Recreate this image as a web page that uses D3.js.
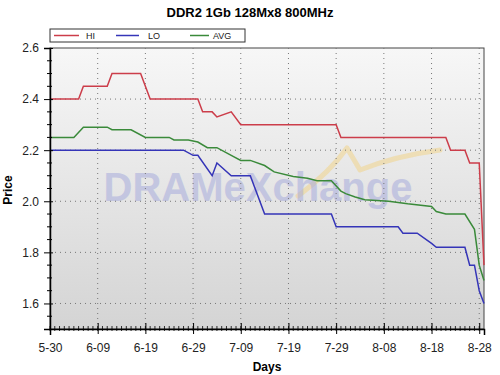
<!DOCTYPE html>
<html>
<head>
<meta charset="utf-8">
<script src="https://cdn.jsdelivr.net/npm/d3@7"></script>
<style>
  body { margin: 0; background: #fff; }
  text { font-family: "Liberation Sans", Arial, sans-serif; }
</style>
</head>
<body>
<script>
// values
var tickLabels = ["5-30", "6-09", "6-19", "6-29", "7-09", "7-19", "7-29", "8-08", "8-18", "8-28"];
var yTicks = [1.6, 1.8, 2.0, 2.2, 2.4, 2.6];

var hiDates = ["5-30","6-05","6-06","6-11","6-12","6-18","6-20","6-30","7-01","7-03","7-04","7-07","7-09","7-29","7-30","8-21","8-22","8-25","8-26","8-28","8-29"];
var hiValues = [2.40, 2.40, 2.45, 2.45, 2.50, 2.50, 2.40, 2.40, 2.35, 2.35, 2.33, 2.35, 2.30, 2.30, 2.25, 2.25, 2.20, 2.20, 2.15, 2.15, 1.75];

var loDates = ["5-30","6-27","6-29","6-30","7-03","7-04","7-07","7-11","7-14","7-28","7-29","8-11","8-12","8-15","8-18","8-19","8-25","8-26","8-27","8-28","8-29"];
var loValues = [2.20, 2.20, 2.18, 2.18, 2.10, 2.15, 2.10, 2.10, 1.95, 1.95, 1.90, 1.90, 1.875, 1.875, 1.835, 1.82, 1.82, 1.75, 1.75, 1.65, 1.60];

var avgDates = ["5-30","6-04","6-06","6-11","6-12","6-16","6-19","6-24","6-25","6-28","6-30","7-02","7-04","7-07","7-09","7-11","7-14","7-16","7-20","7-23","7-25","7-28","7-30","7-31","8-02","8-04","8-09","8-13","8-18","8-19","8-21","8-25","8-27","8-28","8-29"];
var avgValues = [2.25, 2.25, 2.29, 2.29, 2.28, 2.28, 2.25, 2.25, 2.24, 2.24, 2.232, 2.21, 2.21, 2.18, 2.16, 2.16, 2.14, 2.115, 2.097, 2.09, 2.08, 2.08, 2.04, 2.03, 2.017, 2.006, 2.0, 1.99, 1.98, 1.96, 1.95, 1.95, 1.89, 1.75, 1.69];

var W = 500, H = 375;
var m = {left: 50, right: 16, top: 48, bottom: 46};
var parse = d3.timeParse("%Y-%m-%d");
function toDate(s) { return parse("2008-" + s); }

var svg = d3.select("body").append("svg").attr("width", W).attr("height", H);

var x = d3.scaleTime()
  .domain([toDate("5-30"), toDate("8-29")])
  .range([m.left, W - m.right]);
var y = d3.scaleLinear()
  .domain([1.5, 2.6])
  .range([H - m.bottom, m.top]);

// plot background gradient
var grad = svg.append("defs").append("linearGradient")
  .attr("id", "bg").attr("x1", 0).attr("y1", 0).attr("x2", 0).attr("y2", 1);
grad.append("stop").attr("offset", "0%").attr("stop-color", "#f7f7f7");
grad.append("stop").attr("offset", "100%").attr("stop-color", "#d4d4d4");

svg.append("rect")
  .attr("x", m.left).attr("y", m.top)
  .attr("width", W - m.right - m.left).attr("height", H - m.bottom - m.top)
  .attr("fill", "url(#bg)")
  .attr("stroke", "#444").attr("stroke-width", 1);

// watermark
svg.append("path")
  .attr("d", "M298,196 Q330,172 347,148 L360,170 Q395,156 440,150")
  .attr("fill", "none").attr("stroke", "#f0d48a").attr("stroke-width", 5)
  .attr("stroke-linecap", "round").attr("stroke-linejoin", "round").attr("opacity", 0.55);
svg.append("text")
  .attr("x", 258).attr("y", 201)
  .attr("text-anchor", "middle")
  .attr("font-size", 40).attr("font-weight", "bold")
  .attr("fill", "#a8acdc").attr("opacity", 0.55)
  .text("DRAMeXchange");

// grid
var xTickDates = tickLabels.map(toDate);
svg.append("g").selectAll("line").data(xTickDates.slice(1))
  .enter().append("line")
  .attr("x1", function(d) { return x(d); }).attr("x2", function(d) { return x(d); })
  .attr("y1", m.top).attr("y2", H - m.bottom)
  .attr("stroke", "#777").attr("stroke-width", 1).attr("stroke-dasharray", "1,4");
svg.append("g").selectAll("line").data(yTicks.slice(0, -1))
  .enter().append("line")
  .attr("x1", m.left).attr("x2", W - m.right)
  .attr("y1", function(d) { return y(d); }).attr("y2", function(d) { return y(d); })
  .attr("stroke", "#777").attr("stroke-width", 1).attr("stroke-dasharray", "1,4");

// series
var series = [
  {name: "HI", color: "#cc3d4a", dates: hiDates, values: hiValues},
  {name: "LO", color: "#3535b8", dates: loDates, values: loValues},
  {name: "AVG", color: "#3a8a3a", dates: avgDates, values: avgValues}
];
var line = d3.line()
  .x(function(d) { return x(d[0]); })
  .y(function(d) { return y(d[1]); });

series.forEach(function(s) {
  var pts = s.dates.map(function(d, i) { return [toDate(d), s.values[i]]; });
  svg.append("path")
    .datum(pts)
    .attr("fill", "none")
    .attr("stroke", s.color)
    .attr("stroke-width", 1.5)
    .attr("d", line);
});

// y axis
var yAxis = svg.append("g")
  .attr("transform", "translate(" + m.left + ",0)")
  .call(d3.axisLeft(y).tickValues(yTicks).tickFormat(d3.format(".1f")).tickSize(6).tickPadding(5));
yAxis.select(".domain").attr("stroke", "#000").attr("stroke-width", 1.5);
yAxis.selectAll(".tick line").attr("stroke", "#000").attr("x2", 3).attr("x1", -6);
yAxis.selectAll("text").attr("font-size", 12).attr("fill", "#222");
svg.append("g").selectAll("line").data(d3.range(1.55, 2.6, 0.05).filter(function(v) {
    return Math.abs(v * 5 - Math.round(v * 5)) > 0.01;
  }))
  .enter().append("line")
  .attr("x1", m.left - 3).attr("x2", m.left + 2)
  .attr("y1", function(d) { return y(d); }).attr("y2", function(d) { return y(d); })
  .attr("stroke", "#000");

// x axis
var xAxis = svg.append("g")
  .attr("transform", "translate(0," + (H - m.bottom) + ")")
  .call(d3.axisBottom(x).tickValues(xTickDates)
    .tickFormat(function(d, i) { return tickLabels[i]; })
    .tickSize(6).tickPadding(8));
xAxis.select(".domain").attr("stroke", "#000").attr("stroke-width", 1.5);
xAxis.selectAll(".tick line").attr("stroke", "#000").attr("y1", -6).attr("y2", 5);
xAxis.selectAll("text").attr("font-size", 12).attr("fill", "#222");
svg.append("g").selectAll("line").data(d3.timeDay.range(toDate("5-30"), toDate("8-29")))
  .enter().append("line")
  .attr("x1", function(d) { return x(d); }).attr("x2", function(d) { return x(d); })
  .attr("y1", H - m.bottom - 3).attr("y2", H - m.bottom + 2)
  .attr("stroke", "#000").attr("stroke-width", 0.8);

// titles
svg.append("text")
  .attr("x", 250).attr("y", 17)
  .attr("text-anchor", "middle")
  .attr("font-size", 13).attr("font-weight", "bold")
  .text("DDR2 1Gb 128Mx8 800MHz");
svg.append("text")
  .attr("x", 267).attr("y", 371)
  .attr("text-anchor", "middle")
  .attr("font-size", 12).attr("font-weight", "bold")
  .text("Days");
svg.append("text")
  .attr("transform", "translate(12,190) rotate(-90)")
  .attr("text-anchor", "middle")
  .attr("font-size", 12).attr("font-weight", "bold")
  .text("Price");

// legend
var legend = svg.append("g");
legend.append("rect")
  .attr("x", 50).attr("y", 29).attr("width", 195).attr("height", 13)
  .attr("fill", "#fff").attr("stroke", "#333");
var legendX = [54, 116, 190];
var legendW = [25, 23, 19];
var legendTextX = [86, 148, 213];
series.forEach(function(s, i) {
  legend.append("line")
    .attr("x1", legendX[i]).attr("x2", legendX[i] + legendW[i])
    .attr("y1", 35.5).attr("y2", 35.5)
    .attr("stroke", s.color).attr("stroke-width", 1.5);
  legend.append("text")
    .attr("x", legendTextX[i]).attr("y", 39)
    .attr("font-size", 9).attr("fill", "#222")
    .text(s.name);
});
</script>
</body>
</html>
